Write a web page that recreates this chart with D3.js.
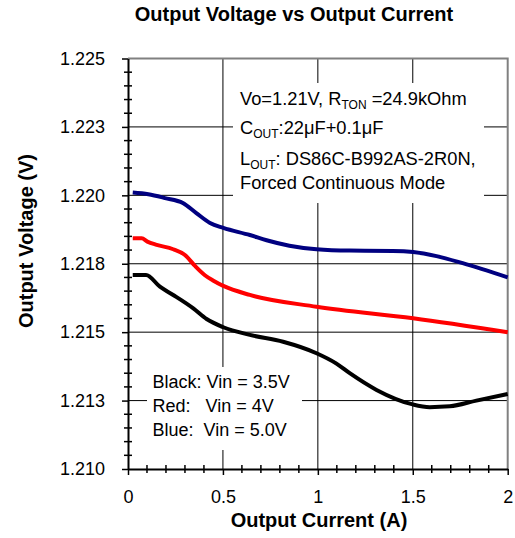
<!DOCTYPE html>
<html>
<head>
<meta charset="utf-8">
<script src="https://cdn.jsdelivr.net/npm/d3@7"></script>
<style>
  body { margin: 0; background: #fff; }
  text { font-family: "Liberation Sans", Arial, sans-serif; fill: #000; white-space: pre; }
</style>
</head>
<body>
<div id="chart"></div>
<script>
// values: output current (A) and output voltage (V)
const blueCurrent = [0.025, 0.107, 0.195, 0.289, 0.36, 0.432, 0.502, 0.642, 0.73, 0.85, 0.993, 1.168, 1.395, 1.502, 1.625, 1.763, 2.0]
const blueVoltage = [1.2201, 1.22004, 1.2199, 1.21972, 1.21935, 1.21899, 1.21881, 1.21855, 1.21836, 1.21816, 1.21803, 1.21798, 1.21797, 1.21793, 1.21778, 1.21752, 1.2170]

const redCurrent = [0.025, 0.072, 0.102, 0.151, 0.238, 0.3, 0.353, 0.405, 0.45, 0.502, 0.642, 0.993, 1.502, 2.0]
const redVoltage = [1.21843, 1.21843, 1.21831, 1.21819, 1.21803, 1.21782, 1.21742, 1.21708, 1.21688, 1.21669, 1.21636, 1.21593, 1.21551, 1.2150]

const blackCurrent = [0.025, 0.095, 0.168, 0.238, 0.344, 0.414, 0.502, 0.642, 0.817, 0.993, 1.096, 1.168, 1.309, 1.499, 1.589, 1.695, 1.835, 2.0]
const blackVoltage = [1.21709, 1.21709, 1.21666, 1.21636, 1.21587, 1.21548, 1.21518, 1.2149, 1.21465, 1.21423, 1.21386, 1.2135, 1.21289, 1.21236, 1.21226, 1.21229, 1.2125, 1.21274]

const xTicks = [0, 0.5, 1, 1.5, 2]
const xTickLabels = ["0", "0.5", "1", "1.5", "2"]
const yTicks = [1.21, 1.2125, 1.215, 1.2175, 1.22, 1.2225, 1.225]
const yTickLabels = ["1.210", "1.213", "1.215", "1.218", "1.220", "1.223", "1.225"]

const legendLines = ["Black: Vin = 3.5V", "Red:   Vin = 4V", "Blue:  Vin = 5.0V"]

outputChart("chart")

function outputChart(id) {
    const width = 515
    const height = 538

    let svg = d3.select(`#${id}`)
        .append("svg")
        .attr("width", width)
        .attr("height", height)

    const x = d3.scaleLinear().domain([0, 2]).range([128, 507.7])
    const y = d3.scaleLinear().domain([1.21, 1.225]).range([469, 58.5])

    const [x0, x1] = x.range()
    const [y0, y1] = y.range()

    // grid
    svg.selectAll(".hgrid")
        .data(yTicks.slice(1, -1))
        .enter()
        .append("line")
        .attr("x1", x0).attr("x2", x1)
        .attr("y1", d => y(d)).attr("y2", d => y(d))
        .attr("stroke", "#000").attr("stroke-width", 1)

    svg.selectAll(".vgrid")
        .data(xTicks.slice(1, -1))
        .enter()
        .append("line")
        .attr("x1", d => x(d)).attr("x2", d => x(d))
        .attr("y1", y1).attr("y2", y0)
        .attr("stroke", "#000").attr("stroke-width", 1)

    // plot border, top and right in grey
    svg.append("path")
        .attr("d", `M${x0},${y1}H${x1}V${y0}`)
        .attr("fill", "none")
        .attr("stroke", "#808080")
        .attr("stroke-width", 2)

    // white boxes behind the notes
    svg.append("rect").attr("x", 233).attr("y", 83).attr("width", 251).attr("height", 120).attr("fill", "#fff")
    svg.append("rect").attr("x", 147).attr("y", 367).attr("width", 155).attr("height", 83).attr("fill", "#fff")

    // curves
    let line = d3.line()
        .x(d => x(d[0]))
        .y(d => y(d[1]))
        .curve(d3.curveMonotoneX)

    const series = [
        { current: blackCurrent, voltage: blackVoltage, colour: "#000000" },
        { current: redCurrent, voltage: redVoltage, colour: "#ff0000" },
        { current: blueCurrent, voltage: blueVoltage, colour: "#000080" },
    ]

    for (let s of series) {
        svg.append("path")
            .datum(d3.zip(s.current, s.voltage))
            .attr("d", line)
            .attr("fill", "none")
            .attr("stroke", s.colour)
            .attr("stroke-width", 4)
            .attr("stroke-linejoin", "round")
    }

    // axes
    let yAxis = svg.append("g")
        .attr("transform", `translate(${x0},0)`)
        .call(d3.axisLeft(y).tickValues(yTicks).tickFormat((d, i) => yTickLabels[i])
            .tickSizeInner(6).tickSizeOuter(0).tickPadding(17))

    let xAxis = svg.append("g")
        .attr("transform", `translate(0,${y0})`)
        .call(d3.axisBottom(x).tickValues(xTicks).tickFormat((d, i) => xTickLabels[i])
            .tickSizeInner(6).tickSizeOuter(0).tickPadding(15))

    for (let a of [xAxis, yAxis]) {
        a.select(".domain").attr("stroke", "#000").attr("stroke-width", 2)
        a.selectAll(".tick line").attr("stroke", "#000").attr("stroke-width", 1.5)
        a.selectAll(".tick text").attr("font-size", 18).attr("font-family", null)
    }

    // minor ticks crossing the axes
    svg.selectAll(".yminor")
        .data(d3.range(1.21, 1.2251, 0.0005).filter((d, i) => i % 5 !== 0))
        .enter()
        .append("line")
        .attr("x1", x0 - 4).attr("x2", x0 + 4)
        .attr("y1", d => y(d)).attr("y2", d => y(d))
        .attr("stroke", "#000").attr("stroke-width", 1.5)

    svg.selectAll(".xminor")
        .data(d3.range(0, 2.01, 0.1).filter((d, i) => i % 5 !== 0))
        .enter()
        .append("line")
        .attr("x1", d => x(d)).attr("x2", d => x(d))
        .attr("y1", y0 - 4).attr("y2", y0 + 4)
        .attr("stroke", "#000").attr("stroke-width", 1.5)

    // titles
    svg.append("text")
        .attr("x", 294).attr("y", 21)
        .attr("text-anchor", "middle")
        .attr("font-size", 20).attr("font-weight", "bold")
        .text("Output Voltage vs Output Current")

    svg.append("text")
        .attr("x", 319).attr("y", 527)
        .attr("text-anchor", "middle")
        .attr("font-size", 20).attr("font-weight", "bold")
        .text("Output Current (A)")

    svg.append("text")
        .attr("transform", "translate(33,241) rotate(-90)")
        .attr("text-anchor", "middle")
        .attr("font-size", 20).attr("font-weight", "bold")
        .text("Output Voltage (V)")

    // conditions note
    const note = [
        [["Vo=1.21V, R", 0], ["TON", 1], [" =24.9kOhm", 0]],
        [["C", 0], ["OUT", 1], [":22\u03bcF+0.1\u03bcF", 0]],
        [["L", 0], ["OUT", 1], [": DS86C-B992AS-2R0N,", 0]],
        [["Forced Continuous Mode", 0]],
    ]
    const noteY = [105, 134, 165, 189]

    note.forEach((parts, i) => {
        let t = svg.append("text")
            .attr("x", 240).attr("y", noteY[i])
            .attr("font-size", 18.3)
        let prev = 0
        for (let [str, sub] of parts) {
            t.append("tspan")
                .attr("dy", (sub ? 4 : 0) - (prev ? 4 : 0))
                .attr("font-size", sub ? 12 : 18.3)
                .text(str)
            prev = sub
        }
    })

    // legend note
    svg.selectAll(".legend")
        .data(legendLines)
        .enter()
        .append("text")
        .attr("x", 152.5)
        .attr("y", (d, i) => 388 + i * 24)
        .attr("font-size", 18)
        .text(d => d)
}
</script>
</body>
</html>
